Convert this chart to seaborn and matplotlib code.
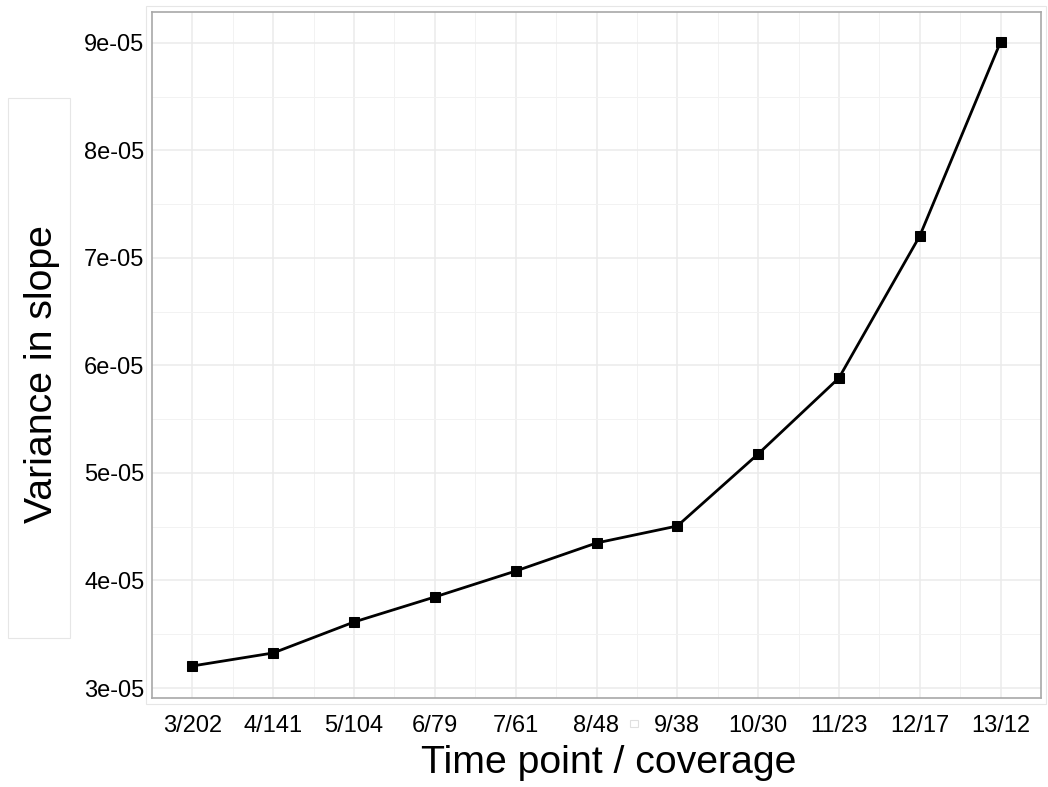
import matplotlib
matplotlib.use("Agg")
import matplotlib.pyplot as plt
import seaborn as sns
import pandas as pd
import numpy as np
from matplotlib.patches import Rectangle
from matplotlib.ticker import FixedLocator

categories = ["3/202", "4/141", "5/104", "6/79", "7/61", "8/48", "9/38",
              "10/30", "11/23", "12/17", "13/12"]
variance = [3.205e-05, 3.326e-05, 3.614e-05, 3.847e-05, 4.088e-05, 4.349e-05,
            4.507e-05, 5.177e-05, 5.884e-05, 7.205e-05, 9.01e-05]
ytick_vals = [3e-05, 4e-05, 5e-05, 6e-05, 7e-05, 8e-05, 9e-05]
ytick_labels = ["3e-05", "4e-05", "5e-05", "6e-05", "7e-05", "8e-05", "9e-05"]

df = pd.DataFrame({"tp": categories, "var": variance})
df["pos"] = np.arange(len(categories))

sns.set_theme(style="white")
plt.rcParams["font.family"] = ["Liberation Sans", "DejaVu Sans"]

W, H = 1048, 787
fig = plt.figure(figsize=(W/100, H/100), dpi=100)
ax = fig.add_axes([152/W, 1-698/H, (1041-152)/W, (698-12)/H])

sns.lineplot(data=df, x="pos", y="var", ax=ax, color="black", linewidth=2,
             marker="s", markersize=6.5, markeredgecolor="black", sort=False)

ax.set_xlim(-0.5, len(categories) - 0.5)
ax.set_ylim(2.907e-05, 9.288e-05)
ax.set_xticks(df["pos"])
ax.set_xticklabels(categories)
ax.xaxis.set_minor_locator(FixedLocator(np.arange(len(categories)) + 0.5))
ax.set_yticks(ytick_vals)
ax.set_yticklabels(ytick_labels)
ax.yaxis.set_minor_locator(FixedLocator(np.array(ytick_vals) + 0.5e-05))

ax.grid(which="major", color="#ebebeb", linewidth=1.1)
ax.grid(which="minor", color="#f2f2f2", linewidth=0.7)
ax.set_axisbelow(True)
for s in ax.spines.values():
    s.set_color("#a8a8a8")
    s.set_linewidth(1.2)

ax.tick_params(axis="both", which="major", length=4, width=1, color="#999999",
               labelsize=17, labelcolor="black")
ax.tick_params(axis="x", which="major", pad=8)
ax.tick_params(axis="y", which="major", pad=1.5)
ax.tick_params(axis="both", which="minor", length=0)

ax.set_xlabel("")
ax.set_ylabel("")
fig.text(609/W, 1-763/H, "Time point / coverage", fontsize=28.3,
         ha="center", va="center", color="black")
fig.text(42/W, 1-374/H, "Variance in slope", fontsize=28.3, rotation=90,
         ha="center", va="center", color="black")

# faint decorative boxes seen in the reference
fig.patches.append(Rectangle((8/W, 1-638/H), 62/W, 540/H,
                             transform=fig.transFigure, fill=False,
                             edgecolor="#e6e6e6", linewidth=0.8))
fig.patches.append(Rectangle((146/W, 1-704/H), 900/W, 698/H,
                             transform=fig.transFigure, fill=False,
                             edgecolor="#e6e6e6", linewidth=0.8))
fig.patches.append(Rectangle((630/W, 1-727/H), 8/W, 7/H,
                             transform=fig.transFigure, fill=False,
                             edgecolor="#e0e0e0", linewidth=0.8))

fig.savefig("out.png", dpi=100, facecolor="white")
